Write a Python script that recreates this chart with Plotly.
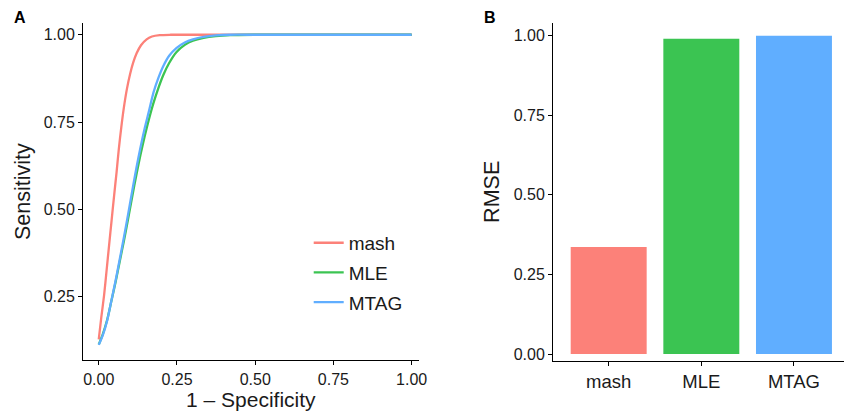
import plotly.graph_objects as go

# ---------------- data ----------------
methods = ["mash", "MLE", "MTAG"]
colors = ["#FC8179", "#3BC452", "#60AEFF"]

fpr_mash = [0, 0.008, 0.017, 0.025, 0.033, 0.041, 0.049, 0.057, 0.064, 0.072, 0.08, 0.09, 0.1,
            0.11, 0.121, 0.135, 0.153, 0.17, 0.195, 0.23, 0.3, 0.5, 0.75, 1.0]
sens_mash = [0.128, 0.19, 0.254, 0.325, 0.397, 0.468, 0.539, 0.607, 0.672, 0.735, 0.79, 0.845, 0.887,
             0.92, 0.947, 0.97, 0.987, 0.995, 0.999, 1.0, 1.0, 1.0, 1.0, 1.0]

fpr_mle = [0, 0.013, 0.027, 0.04, 0.054, 0.067, 0.08, 0.094, 0.107, 0.12, 0.133, 0.147, 0.16,
           0.175, 0.19, 0.206, 0.225, 0.248, 0.275, 0.301, 0.335, 0.374, 0.42, 0.5, 0.7, 1.0]
sens_mle = [0.113, 0.143, 0.184, 0.236, 0.293, 0.351, 0.408, 0.474, 0.537, 0.598, 0.655, 0.71, 0.757,
            0.805, 0.846, 0.884, 0.919, 0.95, 0.971, 0.983, 0.991, 0.996, 0.999, 1.0, 1.0, 1.0]

fpr_mtag = [0, 0.013, 0.027, 0.04, 0.054, 0.067, 0.08, 0.094, 0.107, 0.12, 0.133, 0.147, 0.16,
            0.175, 0.19, 0.206, 0.225, 0.248, 0.275, 0.301, 0.335, 0.374, 0.42, 0.5, 0.7, 1.0]
sens_mtag = [0.112, 0.14, 0.182, 0.237, 0.297, 0.357, 0.418, 0.487, 0.553, 0.617, 0.676, 0.733, 0.78,
             0.835, 0.875, 0.91, 0.94, 0.962, 0.978, 0.987, 0.994, 0.998, 1.0, 1.0, 1.0, 1.0]

rmse = [0.336, 0.99, 1.0]

roc_ticks = [0.0, 0.25, 0.5, 0.75, 1.0]
roc_ticklabels = ["0.00", "0.25", "0.50", "0.75", "1.00"]

# ---------------- figure ----------------
W, H = 853, 415
FONT = "Liberation Sans, Arial, sans-serif"
TXT = "#1a1a1a"

fig = go.Figure()

roc_x = [fpr_mash, fpr_mle, fpr_mtag]
roc_y = [sens_mash, sens_mle, sens_mtag]
for i, m in enumerate(methods):
    fig.add_trace(go.Scatter(
        x=roc_x[i], y=roc_y[i], mode="lines", name=m,
        line=dict(color=colors[i], width=2.3, shape="spline", smoothing=0.7),
        legendgroup=m, xaxis="x", yaxis="y",
    ))

fig.add_trace(go.Bar(
    x=methods, y=rmse, marker=dict(color=colors, line=dict(width=0)),
    width=0.82, showlegend=False, xaxis="x2", yaxis="y2",
))

def px_x(p):
    return p / W

def px_y(p):
    return 1 - p / H

axis_common = dict(
    showgrid=False, zeroline=False, showline=True, linecolor="black", linewidth=1.2,
    ticks="outside", ticklen=4, tickwidth=1.2, tickcolor="black",
    tickfont=dict(family=FONT, size=16, color=TXT),
)

fig.update_layout(
    width=W, height=H,
    margin=dict(l=0, r=0, t=0, b=0),
    paper_bgcolor="white", plot_bgcolor="white",
    font=dict(family=FONT, color=TXT),
    xaxis=dict(
        domain=[px_x(84), px_x(423)], range=[-0.05, 1.022],
        tickvals=roc_ticks, ticktext=roc_ticklabels, anchor="y",
        title=dict(text="1 \u2013 Specificity", font=dict(family=FONT, size=21, color=TXT), standoff=5),
        **axis_common,
    ),
    yaxis=dict(
        domain=[px_y(362), px_y(23)], range=[0.068, 1.034],
        tickvals=[0.25, 0.5, 0.75, 1.0], ticktext=["0.25", "0.50", "0.75", "1.00"], anchor="x",
        title=dict(text="Sensitivity", font=dict(family=FONT, size=21.5, color=TXT), standoff=7),
        **axis_common,
    ),
    xaxis2=dict(
        domain=[px_x(559), 1.0], range=[-0.6, 2.54], type="category", anchor="y2",
        tickfont=dict(family=FONT, size=18.5, color=TXT),
        **{k: v for k, v in axis_common.items() if k != "tickfont"},
    ),
    yaxis2=dict(
        domain=[px_y(362.5), px_y(23)], range=[-0.021, 1.04],
        tickvals=[0, 0.25, 0.5, 0.75, 1.0], ticktext=["0.00", "0.25", "0.50", "0.75", "1.00"], anchor="x2",
        title=dict(text="RMSE", font=dict(family=FONT, size=21.5, color=TXT), standoff=8),
        **axis_common,
    ),
    legend=dict(
        x=px_x(312), y=px_y(225), xanchor="left", yanchor="top",
        font=dict(family=FONT, size=19, color=TXT),
        bgcolor="rgba(0,0,0,0)", tracegroupgap=2, itemwidth=30,
    ),
    showlegend=True,
    annotations=[
        dict(text="<b>A</b>", x=px_x(20.5), y=px_y(18), xref="paper", yref="paper",
             xanchor="center", yanchor="middle",
             showarrow=False, font=dict(family=FONT, size=16, color="black")),
        dict(text="<b>B</b>", x=px_x(495), y=px_y(18), xref="paper", yref="paper",
             xanchor="center", yanchor="middle",
             showarrow=False, font=dict(family=FONT, size=16, color="black")),
    ],
)

fig.write_html(
    "out.html",
    config={"displayModeBar": False},
    post_script="document.body.style.margin='0';document.body.style.overflow='hidden';",
)
